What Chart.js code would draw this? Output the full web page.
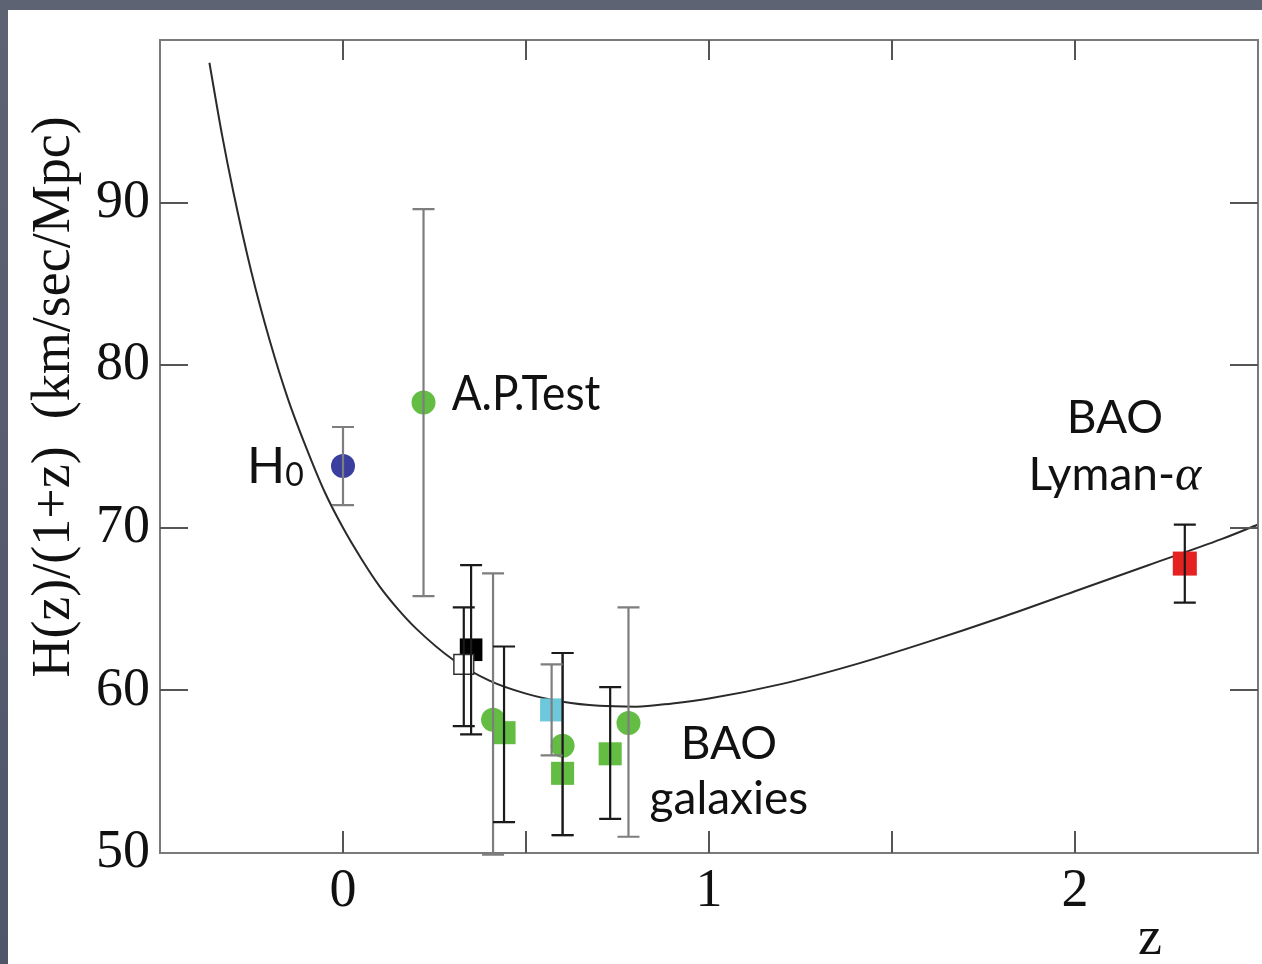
<!DOCTYPE html>
<html>
<head>
<meta charset="utf-8">
<script src="https://cdn.jsdelivr.net/npm/chart.js@4/dist/chart.umd.min.js"></script>
<style>
  html, body { margin: 0; padding: 0; background: #5a606e; overflow: hidden; }
  canvas { display: block; }
</style>
</head>
<body>
<canvas id="c" width="1262" height="964"></canvas>
<script>
// Axis ranges and tick values
const xRange = [-0.5, 2.5];
const yRange = [50, 100];
const xTickValues = [0, 0.5, 1, 1.5, 2];
const yTickValues = [60, 70, 80, 90];
const xTickLabels = ['0', '1', '2'];
const yTickLabels = ['50', '60', '70', '80', '90'];

// Model curve H(z)/(1+z)
const curveZ = [-0.365, -0.33, -0.3, -0.25, -0.2, -0.15, -0.1, -0.05, 0, 0.05, 0.1, 0.15, 0.2, 0.3, 0.4, 0.5, 0.6, 0.7, 0.8, 0.9, 1.0, 1.2, 1.4, 1.6, 1.8, 2.0, 2.2, 2.4, 2.5];
const curveH = [98.6, 94.1, 90.7, 85.7, 81.5, 77.9, 74.9, 72.2, 70.0, 68.1, 66.4, 65.0, 63.8, 61.9, 60.6, 59.8, 59.3, 59.05, 59.0, 59.2, 59.5, 60.4, 61.6, 63.0, 64.5, 66.1, 67.7, 69.3, 70.2];

// Local H0 measurement
const h0Z = [0];
const h0H = [73.8];
const h0Lo = [71.4];
const h0Hi = [76.2];

// Alcock-Paczynski test
const apZ = [0.22];
const apH = [77.7];
const apLo = [65.8];
const apHi = [89.6];

// BAO galaxies, circles
const baoCircZ = [0.41, 0.60, 0.78];
const baoCircH = [58.2, 56.6, 58.0];
const baoCircLo = [49.9, 51.1, 51.0];
const baoCircHi = [67.2, 62.3, 65.1];

// BAO galaxies, squares
const baoSqZ = [0.44, 0.60, 0.73];
const baoSqH = [57.4, 54.9, 56.1];
const baoSqLo = [51.9, 51.1, 52.1];
const baoSqHi = [62.7, 62.3, 60.2];

// BAO open square
const openSqZ = [0.33];
const openSqH = [61.6];
const openSqLo = [57.8];
const openSqHi = [65.1];

// BAO black square
const blackSqZ = [0.35];
const blackSqH = [62.5];
const blackSqLo = [57.3];
const blackSqHi = [67.7];

// BAO cyan square
const cyanSqZ = [0.57];
const cyanSqH = [58.8];
const cyanSqLo = [56.0];
const cyanSqHi = [61.6];

// BAO Lyman-alpha
const lyaZ = [2.3];
const lyaH = [67.8];
const lyaLo = [65.4];
const lyaHi = [70.2];

const GREEN = '#62bd42';
const GREY_BAR = '#7e7e7e';
const DARK_BAR = '#1a1a1a';
const pts = (zs, hs) => zs.map((z, i) => ({ x: z, y: hs[i] }));

function markerSet(zs, hs, lo, hi, style, radius, fill, barColor, extra) {
  return Object.assign({
    data: pts(zs, hs),
    pointStyle: style,
    pointRadius: radius,
    pointHoverRadius: radius,
    backgroundColor: fill,
    borderColor: fill,
    borderWidth: 0,
    showLine: false,
    errLo: lo,
    errHi: hi,
    barColor: barColor
  }, extra || {});
}

const datasets = [
  {
    type: 'line',
    data: pts(curveZ, curveH),
    borderColor: '#2a2a2a',
    borderWidth: 2,
    pointRadius: 0,
    fill: false,
    cubicInterpolationMode: 'monotone',
    order: 10
  },
  markerSet(h0Z, h0H, h0Lo, h0Hi, 'circle', 12, '#3a3f9f', GREY_BAR),
  markerSet(apZ, apH, apLo, apHi, 'circle', 12, GREEN, GREY_BAR),
  markerSet(openSqZ, openSqH, openSqLo, openSqHi, 'rect', 14, '#ffffff', DARK_BAR, { borderColor: '#333', borderWidth: 1.5 }),
  markerSet(blackSqZ, blackSqH, blackSqLo, blackSqHi, 'rect', 16, '#000000', DARK_BAR),
  markerSet(baoCircZ, baoCircH, baoCircLo, baoCircHi, 'circle', 12, GREEN, GREY_BAR),
  markerSet(baoSqZ, baoSqH, baoSqLo, baoSqHi, 'rect', 16.3, GREEN, DARK_BAR),
  markerSet(cyanSqZ, cyanSqH, cyanSqLo, cyanSqHi, 'rect', 16.3, '#6cc8da', GREY_BAR),
  markerSet(lyaZ, lyaH, lyaLo, lyaHi, 'rect', 17, '#e52222', DARK_BAR)
];

// Slide backdrop and white panel
const backdrop = {
  id: 'backdrop',
  beforeDraw(chart) {
    const c = chart.ctx;
    c.save();
    const g = c.createLinearGradient(0, 0, 0, chart.height);
    g.addColorStop(0, '#5d6372');
    g.addColorStop(1, '#50566a');
    c.fillStyle = g;
    c.fillRect(0, 0, chart.width, chart.height);
    c.fillStyle = '#ffffff';
    c.fillRect(8, 10, chart.width - 8, chart.height - 10);
    c.restore();
  }
};

// Plot frame with inward tick marks on all four sides
const frame = {
  id: 'frame',
  afterDraw(chart) {
    const c = chart.ctx, a = chart.chartArea;
    const xs = chart.scales.x, ys = chart.scales.y;
    c.save();
    c.strokeStyle = '#7a7a7a';
    c.lineWidth = 2;
    c.strokeRect(a.left, a.top, a.right - a.left, a.bottom - a.top);
    c.strokeStyle = '#555';
    c.lineWidth = 2;
    c.beginPath();
    xTickValues.forEach(v => {
      const px = Math.round(xs.getPixelForValue(v));
      c.moveTo(px, a.bottom); c.lineTo(px, a.bottom - 22);
      c.moveTo(px, a.top); c.lineTo(px, a.top + 20);
    });
    yTickValues.forEach(v => {
      const py = Math.round(ys.getPixelForValue(v));
      c.moveTo(a.left, py); c.lineTo(a.left + 28, py);
      c.moveTo(a.right, py); c.lineTo(a.right - 28, py);
    });
    c.stroke();
    c.restore();
  }
};

// Vertical error bars with caps, drawn over the markers
const errorBars = {
  id: 'errorBars',
  afterDatasetsDraw(chart) {
    const c = chart.ctx;
    const xs = chart.scales.x, ys = chart.scales.y;
    c.save();
    c.lineWidth = 2.2;
    chart.data.datasets.forEach(ds => {
      if (!ds.errLo) return;
      c.strokeStyle = ds.barColor;
      ds.data.forEach((p, i) => {
        const px = xs.getPixelForValue(p.x);
        const yLo = ys.getPixelForValue(ds.errLo[i]);
        const yHi = ys.getPixelForValue(ds.errHi[i]);
        c.beginPath();
        c.moveTo(px, yLo); c.lineTo(px, yHi);
        c.moveTo(px - 11, yLo); c.lineTo(px + 11, yLo);
        c.moveTo(px - 11, yHi); c.lineTo(px + 11, yHi);
        c.stroke();
      });
    });
    c.restore();
  }
};

// Text annotations and axis titles
const annotations = {
  id: 'annotations',
  afterDraw(chart) {
    const c = chart.ctx;
    const xs = chart.scales.x, ys = chart.scales.y;
    const X = v => xs.getPixelForValue(v), Y = v => ys.getPixelForValue(v);
    c.save();
    c.fillStyle = '#111';
    c.textBaseline = 'alphabetic';

    const sans = sz => sz + 'px Lato, "Open Sans", sans-serif';

    // H0
    c.textAlign = 'left';
    c.font = sans(50);
    c.fillText('H', X(-0.262), Y(72.77));
    const hw = c.measureText('H').width;
    c.font = sans(32);
    c.fillText('0', X(-0.262) + hw, Y(72.6));

    // A.P. Test
    c.font = sans(48);
    c.save();
    c.translate(X(0.297), Y(77.26));
    c.scale(0.92, 1);
    c.fillText('A.P.Test', 0, 0);
    c.restore();

    // BAO galaxies
    c.textAlign = 'center';
    c.font = sans(46);
    c.fillText('BAO', X(1.0545), Y(55.78));
    c.fillText('galaxies', X(1.0545), Y(52.4));

    // BAO Lyman-alpha
    c.fillText('BAO', X(2.109), Y(75.85));
    c.textAlign = 'left';
    c.font = sans(46);
    const lyTxt = 'Lyman-';
    const lw = c.measureText(lyTxt).width;
    c.font = 'italic 50px "Liberation Serif", serif';
    const aw = c.measureText('\u03B1').width;
    const startX = X(2.109) - (lw + aw) / 2;
    c.font = sans(46);
    c.fillText(lyTxt, startX, Y(72.34));
    c.font = 'italic 50px "Liberation Serif", serif';
    c.fillText('\u03B1', startX + lw, Y(72.34));

    // Axis titles
    c.font = '54px "Liberation Serif", serif';
    c.textAlign = 'center';
    c.fillText('z', 1150, 954);
    c.save();
    c.translate(69, 397);
    c.rotate(-Math.PI / 2);
    c.fillText('H(z)/(1+z)  (km/sec/Mpc)', 0, 0);
    c.restore();
    c.restore();
  }
};

const serifTicks = { family: '"Liberation Serif", serif', size: 54 };

new Chart(document.getElementById('c'), {
  type: 'scatter',
  data: { datasets },
  options: {
    responsive: false,
    animation: false,
    events: [],
    layout: { autoPadding: false, padding: { left: 0, top: 40, right: 4, bottom: 0 } },
    plugins: { legend: { display: false }, tooltip: { enabled: false } },
    scales: {
      x: {
        type: 'linear',
        min: xRange[0], max: xRange[1],
        grid: { display: false, drawTicks: false },
        border: { display: false },
        ticks: {
          stepSize: 0.5,
          autoSkip: false,
          maxRotation: 0,
          padding: 6,
          color: '#111',
          font: serifTicks,
          callback: v => xTickLabels.includes(String(v)) ? String(v) : ''
        },
        afterFit: s => { s.height = 111; s.paddingLeft = 0; s.paddingRight = 0; }
      },
      y: {
        type: 'linear',
        min: yRange[0], max: yRange[1],
        grid: { display: false, drawTicks: false },
        border: { display: false },
        ticks: {
          stepSize: 10,
          padding: 10,
          color: '#111',
          font: serifTicks,
          callback: v => yTickLabels.includes(String(v)) ? String(v) : ''
        },
        afterFit: s => { s.width = 160; s.paddingTop = 0; s.paddingBottom = 0; }
      }
    }
  },
  plugins: [backdrop, frame, errorBars, annotations]
});
</script>
</body>
</html>
